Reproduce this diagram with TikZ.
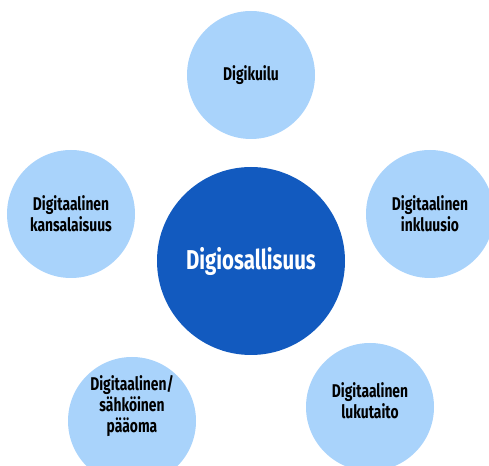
\documentclass[tikz,border=0pt]{standalone}
\usepackage{fontspec}
\setmainfont{Fira Sans}[FakeStretch=0.75]
\usepackage{tikz}
\usetikzlibrary{positioning}
\definecolor{lightblue}{RGB}{169,211,251}
\definecolor{darkblue}{RGB}{18,90,191}

\begin{document}
\begin{tikzpicture}[
	leaf/.style = {circle, fill = lightblue, minimum size = 2.56cm, inner sep = 0pt, align = center, font = \bfseries\fontsize{10.5}{12}\selectfont},
	hub/.style = {circle, fill = darkblue, minimum size = 3.76cm, inner sep = 0pt, text = white, font = \bfseries\fontsize{15.5}{16}\selectfont}]
	\useasboundingbox (0,0) rectangle (9.78,9.32);
	\begin{scope}
	\clip (0,0) rectangle (9.78,9.32);
	\node[hub] (hub) at (5.02,4.10) {Digiosallisuus};
	\node[leaf] (kuilu) at (5.02,7.82) {Digikuilu};
	\node[leaf] (kansalaisuus) at (1.42,5.04) {Digitaalinen\\kansalaisuus};
	\node[leaf] (inkluusio) at (8.60,5.04) {Digitaalinen\\inkluusio};
	\node[leaf] (paaoma) at (2.64,0.90) {};
	\node[leaf, fill = none] (paaomatext) at (2.64,1.20) {Digitaalinen/\\sähköinen\\pääoma};
	\node[leaf] (lukutaito) at (7.40,1.18) {};
	\node[leaf, fill = none] (lukutaitotext) at (7.40,1.30) {Digitaalinen\\lukutaito};
	\end{scope}
\end{tikzpicture}
\end{document}
